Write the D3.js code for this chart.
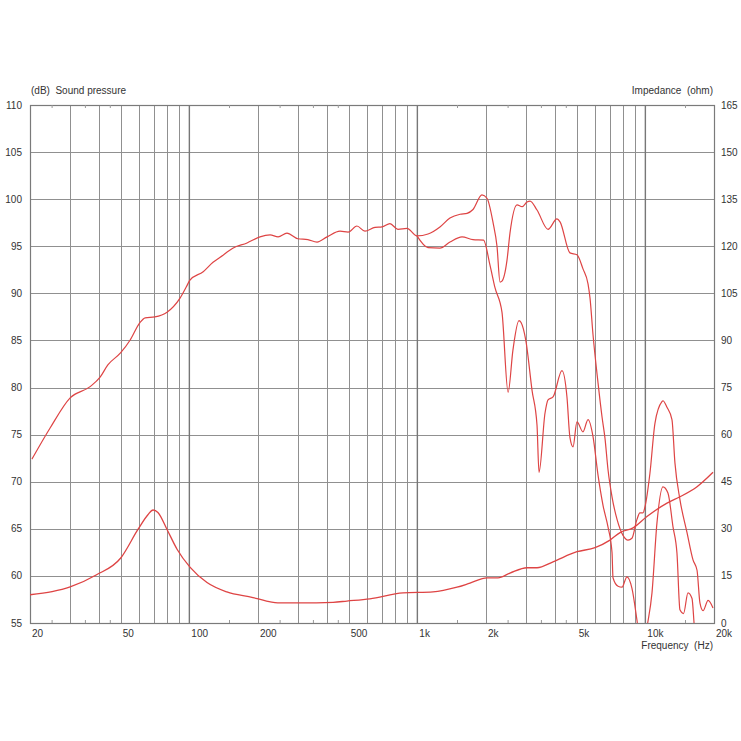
<!DOCTYPE html>
<html>
<head>
<meta charset="utf-8">
<script src="https://cdn.jsdelivr.net/npm/d3@7"></script>
<style>
  html, body { margin: 0; padding: 0; background: #fff; }
  svg text { font-family: "Liberation Sans", Arial, sans-serif; font-size: 10px; fill: #333; }
</style>
</head>
<body>
<svg id="chart" width="741" height="741"></svg>
<script>
// ---- Data (frequency in Hz, SPL in dB, impedance in ohm) ----
const splTicks = [55, 60, 65, 70, 75, 80, 85, 90, 95, 100, 105, 110];
const impTicks = [0, 15, 30, 45, 60, 75, 90, 105, 120, 135, 150, 165];
const freqLabels = [20, 50, 100, 200, 500, 1000, 2000, 5000, 10000, 20000];
const freqLabelText = ["20", "50", "100", "200", "500", "1k", "2k", "5k", "10k", "20k"];
const gridFreqs = [30, 40, 50, 60, 70, 80, 90, 200, 300, 400, 500, 600, 700, 800, 900,
                   2000, 3000, 4000, 5000, 6000, 7000, 8000, 9000];
const decadeFreqs = [100, 1000, 10000];
const minorTickFreqs = [25, 35, 45, 150, 250, 350, 450, 1500, 2500, 3500, 4500, 15000];

// SPL shared by both measurements (below ~1 kHz)
const splShared = [
  [20.4, 72.4], [24.5, 75.7], [30, 78.9], [36.7, 80.1], [40.6, 81.1], [43.9, 82.4],
  [50, 83.7], [55, 85.05], [60.7, 86.9], [64, 87.4], [70.6, 87.5], [79.8, 88.0],
  [91, 89.5], [97, 90.7], [100.6, 91.4], [115, 92.3], [127, 93.3], [136, 93.8],
  [155, 94.8], [179, 95.35], [204, 96.0], [226, 96.2], [245, 96.0], [268, 96.4],
  [299, 95.8], [331, 95.7], [363, 95.45], [402, 96.0], [458, 96.6], [497, 96.5],
  [543, 97.15], [589, 96.6], [652, 97.0], [700, 97.05], [758, 97.4], [822, 96.8],
  [901, 96.9], [996, 96.1]
];
// On-axis SPL above 1 kHz
const splOnAxis = [
  [1114, 96.3], [1256, 97.05], [1390, 98.0], [1540, 98.4], [1652, 98.5], [1754, 98.9],
  [1920, 100.45], [2020, 100.1], [2148, 97.5], [2235, 95.0], [2304, 91.2], [2350, 91.3],
  [2472, 93.5], [2548, 96.4], [2736, 99.4], [2878, 99.2], [3026, 99.7], [3120, 99.8],
  [3348, 98.85], [3742, 96.8], [4096, 97.9], [4224, 97.6], [4668, 94.3], [5012, 94.1],
  [5326, 92.6], [5604, 91.0], [5718, 89.5], [5894, 85.6], [6200, 80.5], [6454, 76.9],
  [6652, 74.6], [6856, 71.3], [7140, 68.4], [7512, 66.0], [7980, 64.3], [8392, 63.8],
  [8730, 64.0], [9186, 66.0], [9464, 66.7], [9766, 66.7], [9954, 67.3], [10472, 70.9],
  [11016, 76.2], [11820, 78.5], [11940, 78.6], [12440, 77.9], [13080, 76.6], [13480, 72.0],
  [14180, 68.1], [15230, 64.6], [16180, 61.7], [16850, 60.6], [17360, 57.1], [17900, 56.3],
  [18840, 57.4], [19800, 56.6]
];
// Off-axis SPL above 1 kHz
const splOffAxis = [
  [1114, 94.85], [1256, 94.8], [1390, 95.45], [1570, 96.0], [1754, 95.7], [1950, 95.65],
  [2082, 93.0], [2190, 90.6], [2350, 88.0], [2500, 79.5], [2626, 84.0], [2790, 87.1],
  [2850, 86.9], [2990, 85.0], [3184, 79.7], [3348, 76.0], [3416, 71.0], [3630, 77.3],
  [3742, 78.7], [3936, 79.0], [4308, 81.8], [4530, 79.0], [4668, 74.7], [4816, 73.7],
  [5012, 76.35], [5326, 75.3], [5604, 76.6], [5894, 74.8], [6200, 70.7], [6520, 67.5],
  [6856, 65.2], [7140, 62.5], [7212, 59.8], [7588, 58.9], [7900, 58.8], [8300, 59.9],
  [8730, 58.7], [9186, 55.3], [9466, 53.0], [9954, 53.0], [10160, 54.5], [10692, 58.2],
  [11240, 65.6], [11940, 69.45], [12560, 68.8], [13220, 65.2], [13760, 62.4], [14180, 56.4],
  [14700, 56.0], [15380, 58.2], [16020, 57.6], [16350, 55.0], [16700, 52.0]
];
// Impedance
const impedance = [
  [20, 9.0], [25, 10.0], [30, 11.5], [39, 15.3], [50, 20.7], [59.5, 29.8], [65.8, 34.5],
  [69.3, 36.0], [72.8, 35.2], [79.8, 29.8], [88.3, 23.5], [100.6, 17.8], [119.5, 12.9],
  [146, 9.9], [190, 8.1], [218, 7.0], [250, 6.4], [305, 6.4], [427, 6.6], [491, 7.0],
  [619, 7.7], [865, 9.6], [1171, 9.9], [1492, 11.4], [1702, 12.7], [2020, 14.4],
  [2258, 14.4], [2548, 15.9], [3026, 17.6], [3348, 17.6], [3936, 19.5], [5012, 22.7],
  [6014, 24.0], [6996, 26.4], [7744, 28.8], [8832, 30.3], [10160, 33.9], [12440, 38.2],
  [14180, 40.2], [16850, 43.4], [19800, 48.0]
];

// ---- Layout ----
const W = 741, H = 741;
const m = { left: 30, top: 105, right: 27, bottom: 118 };
const pw = W - m.left - m.right, ph = H - m.top - m.bottom;
const svg = d3.select("#chart");
svg.append("rect").attr("width", W).attr("height", H).attr("fill", "#fff");
const g = svg.append("g").attr("transform", `translate(${m.left},${m.top})`);

const x = d3.scaleLog().domain([20, 20000]).range([0, pw]);
const yL = d3.scaleLinear().domain([55, 110]).range([ph, 0]);
const yR = d3.scaleLinear().domain([0, 165]).range([ph, 0]);

// Grid
const gridColor = "#909090";
g.selectAll("line.hgrid").data(splTicks).enter().append("line")
  .attr("x1", 0).attr("x2", pw)
  .attr("y1", d => Math.round(yL(d)) + 0.5).attr("y2", d => Math.round(yL(d)) + 0.5)
  .attr("stroke", gridColor).attr("stroke-width", 1);
g.selectAll("line.vgrid").data(gridFreqs).enter().append("line")
  .attr("y1", 0).attr("y2", ph)
  .attr("x1", d => Math.round(x(d)) + 0.5).attr("x2", d => Math.round(x(d)) + 0.5)
  .attr("stroke", gridColor).attr("stroke-width", 1);
g.selectAll("line.dgrid").data(decadeFreqs).enter().append("line")
  .attr("y1", 0).attr("y2", ph)
  .attr("x1", d => x(d)).attr("x2", d => x(d))
  .attr("stroke", "#777").attr("stroke-width", 1.4);
// Frame
g.append("rect").attr("x", 0.5).attr("y", 0.5).attr("width", pw).attr("height", ph)
  .attr("fill", "none").attr("stroke", "#7a7a7a").attr("stroke-width", 1.2);
// Minor ticks
minorTickFreqs.forEach(f => {
  g.append("line").attr("x1", x(f)).attr("x2", x(f)).attr("y1", 0).attr("y2", 3)
    .attr("stroke", "#999");
  g.append("line").attr("x1", x(f)).attr("x2", x(f)).attr("y1", ph).attr("y2", ph - 3)
    .attr("stroke", "#999");
});

// Labels
g.selectAll("text.yl").data(splTicks).enter().append("text")
  .attr("x", -8).attr("y", d => yL(d)).attr("dy", "0.35em")
  .attr("text-anchor", "end").text(d => d);
g.selectAll("text.yr").data(impTicks).enter().append("text")
  .attr("x", pw + 7).attr("y", d => yR(d)).attr("dy", "0.35em")
  .attr("text-anchor", "start").text(d => d);
g.selectAll("text.xl").data(freqLabels).enter().append("text")
  .attr("x", d => x(d) + 2).attr("y", ph + 10).attr("dy", "0.35em")
  .attr("text-anchor", "start").text((d, i) => freqLabelText[i]);
g.append("text").attr("x", 1).attr("y", -15).attr("dy", "0.35em")
  .style("white-space", "pre").text("(dB)  Sound pressure");
g.append("text").attr("x", pw - 1).attr("y", -15).attr("dy", "0.35em")
  .attr("text-anchor", "end").style("white-space", "pre").text("Impedance  (ohm)");
g.append("text").attr("x", pw - 1).attr("y", ph + 22).attr("dy", "0.35em")
  .attr("text-anchor", "end").style("white-space", "pre").text("Frequency  (Hz)");

// Curves
svg.append("defs").append("clipPath").attr("id", "plotclip")
  .append("rect").attr("x", 0).attr("y", 0).attr("width", pw).attr("height", ph);
const curves = g.append("g").attr("clip-path", "url(#plotclip)");
const red = "#de4444";
const lineL = d3.line().x(d => x(d[0])).y(d => yL(d[1])).curve(d3.curveMonotoneX);
const lineR = d3.line().x(d => x(d[0])).y(d => yR(d[1])).curve(d3.curveMonotoneX);

curves.append("path").datum(splShared.concat(splOnAxis)).attr("d", lineL)
  .attr("fill", "none").attr("stroke", red).attr("stroke-width", 1.2);
curves.append("path").datum([splShared[splShared.length - 1]].concat(splOffAxis)).attr("d", lineL)
  .attr("fill", "none").attr("stroke", red).attr("stroke-width", 1.2);
curves.append("path").datum(impedance).attr("d", lineR)
  .attr("fill", "none").attr("stroke", red).attr("stroke-width", 1.3);
</script>
</body>
</html>
